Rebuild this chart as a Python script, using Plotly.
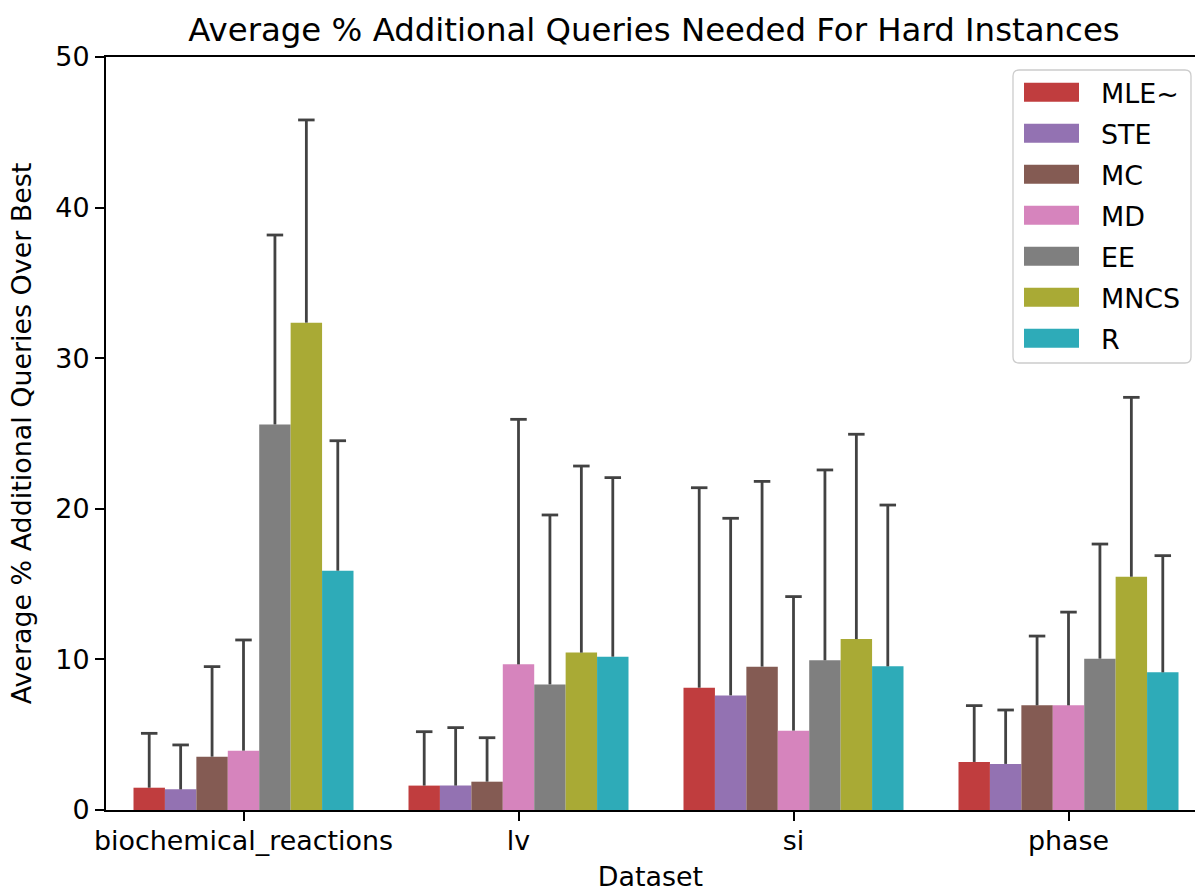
import plotly.graph_objects as go

# Datasets on the x axis and the competing query strategies
datasets = ["biochemical_reactions", "lv", "si", "phase"]
methods = ["MLE~", "STE", "MC", "MD", "EE", "MNCS", "R"]
colors = ["#c03d3e", "#9372b2", "#845b53", "#d684bd", "#7f7f7f", "#a9aa35", "#2eabb8"]

# Mean % additional queries, one list per method (order follows `datasets`)
mean_mle = [1.48, 1.62, 8.12, 3.19]
mean_ste = [1.37, 1.62, 7.61, 3.06]
mean_mc = [3.54, 1.88, 9.52, 6.95]
mean_md = [3.94, 9.67, 5.27, 6.95]
mean_ee = [25.6, 8.34, 9.94, 10.05]
mean_mncs = [32.36, 10.45, 11.35, 15.49]
mean_r = [15.89, 10.18, 9.54, 9.14]

# Upper error extent (standard deviation) per method
err_mle = [3.61, 3.58, 13.28, 3.74]
err_ste = [2.95, 3.85, 11.76, 3.58]
err_mc = [5.98, 2.92, 12.30, 4.60]
err_md = [7.35, 16.27, 8.90, 6.19]
err_ee = [12.58, 11.25, 12.64, 7.61]
err_mncs = [13.46, 12.39, 13.60, 11.91]
err_r = [8.63, 11.89, 10.71, 7.75]

means = [mean_mle, mean_ste, mean_mc, mean_md, mean_ee, mean_mncs, mean_r]
errs = [err_mle, err_ste, err_mc, err_md, err_ee, err_mncs, err_r]

y_ticks = [0, 10, 20, 30, 40, 50]

FONT = "DejaVu Sans"
FS = 26.9
ERR_COLOR = "#424242"

n = len(methods)
group_width = 0.8
bar_w = group_width / n
cap_half = 0.03

fig = go.Figure()

# Grouped bars on a numeric axis so each bar's offset is explicit
for i, (name, col, m) in enumerate(zip(methods, colors, means)):
    offset = (i - (n - 1) / 2) * bar_w
    xs = [g + offset for g in range(len(datasets))]
    fig.add_trace(go.Bar(
        x=xs, y=m, width=bar_w, name=name,
        marker=dict(color=col, line=dict(width=0)),
        showlegend=False, hoverinfo="y",
    ))

# One-sided error bars (upward) with caps, drawn above the bars
for i, (m, e) in enumerate(zip(means, errs)):
    offset = (i - (n - 1) / 2) * bar_w
    lx, ly = [], []
    for g in range(len(datasets)):
        x0 = g + offset
        top = m[g] + e[g]
        lx += [x0, x0, None, x0 - cap_half, x0 + cap_half, None]
        ly += [m[g], top, None, top, top, None]
    fig.add_trace(go.Scatter(
        x=lx, y=ly, mode="lines",
        line=dict(color=ERR_COLOR, width=2.8),
        showlegend=False, hoverinfo="skip",
    ))

# Figure geometry (pixels)
W, H = 1195, 892
ML, MT, MB = 106, 57, 82
plot_w = W - ML
plot_h = H - MT - MB


def px_x(p):
    return (p - ML) / plot_w


def px_y(p):
    return (H - MB - p) / plot_h


# Legend box with colour patches and labels
shapes = []
annotations = []
box_l, box_r, box_t, box_b = 1013, 1191, 70, 363
rad = 6
path = (
    f"M {px_x(box_l + rad)},{px_y(box_t)} L {px_x(box_r - rad)},{px_y(box_t)} "
    f"Q {px_x(box_r)},{px_y(box_t)} {px_x(box_r)},{px_y(box_t + rad)} "
    f"L {px_x(box_r)},{px_y(box_b - rad)} "
    f"Q {px_x(box_r)},{px_y(box_b)} {px_x(box_r - rad)},{px_y(box_b)} "
    f"L {px_x(box_l + rad)},{px_y(box_b)} "
    f"Q {px_x(box_l)},{px_y(box_b)} {px_x(box_l)},{px_y(box_b - rad)} "
    f"L {px_x(box_l)},{px_y(box_t + rad)} "
    f"Q {px_x(box_l)},{px_y(box_t)} {px_x(box_l + rad)},{px_y(box_t)} Z"
)
shapes.append(dict(type="path", xref="paper", yref="paper", path=path,
                   fillcolor="rgba(255,255,255,0.8)",
                   line=dict(color="#cccccc", width=1.3), layer="above"))
row0, row_step = 92.3, 41.0
for i, (name, col) in enumerate(zip(methods, colors)):
    cy = row0 + i * row_step
    shapes.append(dict(type="rect", xref="paper", yref="paper",
                       x0=px_x(1024), x1=px_x(1079),
                       y0=px_y(cy - 9.5), y1=px_y(cy + 9.5),
                       fillcolor=col, line=dict(width=0), layer="above"))
    annotations.append(dict(xref="paper", yref="paper",
                            x=px_x(1099), y=px_y(cy + 1),
                            text=name, showarrow=False,
                            xanchor="left", yanchor="middle",
                            font=dict(family=FONT, size=FS, color="black")))

fig.update_layout(
    width=W, height=H,
    margin=dict(l=ML, r=0, t=MT, b=MB),
    paper_bgcolor="white", plot_bgcolor="white",
    barmode="overlay",
    font=dict(family=FONT, size=FS, color="black"),
    title=dict(text="Average % Additional Queries Needed For Hard Instances",
               xref="container", yref="container",
               x=654 / W, y=1 - 30 / H, xanchor="center", yanchor="middle",
               font=dict(family=FONT, size=32.4, color="black")),
    shapes=shapes,
    annotations=annotations,
)

fig.update_xaxes(
    range=[-0.5, -0.5 + plot_w / 275.0],
    tickmode="array", tickvals=list(range(len(datasets))), ticktext=datasets,
    ticks="outside", ticklen=9, tickwidth=2, tickcolor="black",
    ticklabelstandoff=-3,
    showline=True, linecolor="black", linewidth=2.1, mirror=True,
    showgrid=False, zeroline=False,
    tickfont=dict(family=FONT, size=FS, color="black"),
    title=dict(text="Dataset", font=dict(family=FONT, size=FS, color="black"),
               standoff=15),
    automargin=False,
)
fig.update_yaxes(
    range=[0, 50],
    tickmode="array", tickvals=y_ticks,
    ticks="outside", ticklen=9, tickwidth=2, tickcolor="black",
    showline=True, linecolor="black", linewidth=2.1, mirror=False,
    showgrid=False, zeroline=False,
    tickfont=dict(family=FONT, size=FS, color="black"),
    title=dict(text="Average % Additional Queries Over Best",
               font=dict(family=FONT, size=FS, color="black"), standoff=16),
    automargin=False,
)

fig.write_html("out.html")
